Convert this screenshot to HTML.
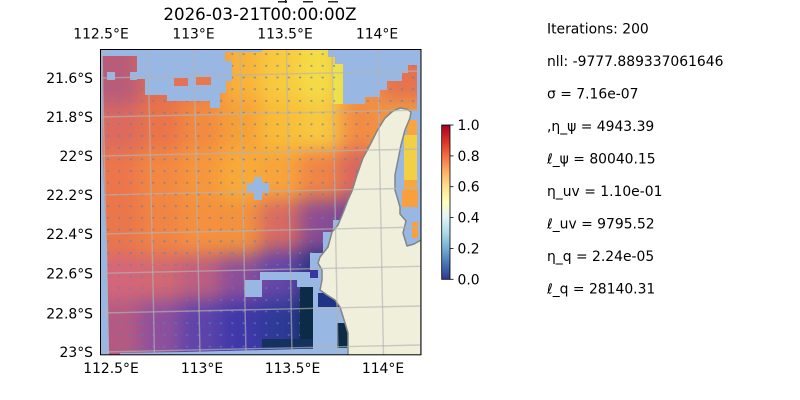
<!DOCTYPE html>
<html><head><meta charset="utf-8"><style>
html,body{margin:0;padding:0;background:#fff;}
svg{display:block;}
text{font-family:"DejaVu Sans","Liberation Sans",sans-serif;fill:#000;}
</style></head><body>
<svg width="800" height="400" viewBox="0 0 800 400" xmlns="http://www.w3.org/2000/svg">
<defs>
<clipPath id="mapclip"><rect x="100" y="49" width="321" height="306"/></clipPath>
<filter id="bl" filterUnits="userSpaceOnUse" x="0" y="0" width="800" height="400" color-interpolation-filters="sRGB"><feGaussianBlur stdDeviation="9"/></filter>
<pattern id="q" width="11.3" height="11.7" patternUnits="userSpaceOnUse" x="103" y="60"><rect x="4" y="5" width="2" height="1.6" fill="#5a80b8"/></pattern>
<linearGradient id="cb" x1="0" y1="1" x2="0" y2="0">
<stop offset="0" stop-color="#313695"/><stop offset="0.1" stop-color="#4575b4"/><stop offset="0.2" stop-color="#74add1"/><stop offset="0.3" stop-color="#abd9e9"/><stop offset="0.4" stop-color="#e0f3f8"/><stop offset="0.5" stop-color="#ffffbf"/><stop offset="0.6" stop-color="#fee090"/><stop offset="0.7" stop-color="#fdae61"/><stop offset="0.8" stop-color="#f46d43"/><stop offset="0.9" stop-color="#d73027"/><stop offset="1" stop-color="#a50026"/>
</linearGradient>
</defs>

<rect x="278" y="1" width="9" height="1.5" fill="#222"/><rect x="285" y="0" width="1.5" height="3" fill="#222"/>
<rect x="303" y="1" width="10" height="1.5" fill="#222"/>
<rect x="328" y="1" width="10" height="1.5" fill="#222"/>

<text x="260" y="20" font-size="16.67" text-anchor="middle">2026-03-21T00:00:00Z</text>

<g clip-path="url(#mapclip)">
<rect x="100" y="49" width="321" height="306" fill="#98b7e2"/>
<g filter="url(#bl)">
<rect x="60" y="20" width="80" height="85" fill="#ba5c78"/><rect x="140" y="20" width="40" height="80" fill="#e06c54"/><rect x="180" y="20" width="40" height="80" fill="#ea7a4a"/><rect x="220" y="20" width="40" height="80" fill="#f8b23a"/><rect x="260" y="20" width="40" height="80" fill="#f8ca3e"/><rect x="300" y="20" width="40" height="80" fill="#f4dc46"/><rect x="340" y="20" width="40" height="80" fill="#f39644"/><rect x="380" y="20" width="80" height="80" fill="#e6724e"/>
<rect x="60" y="105" width="80" height="45" fill="#dc6a5e"/><rect x="140" y="100" width="40" height="50" fill="#ea7448"/><rect x="180" y="100" width="40" height="50" fill="#f28a40"/><rect x="220" y="100" width="40" height="50" fill="#f6a038"/><rect x="260" y="100" width="40" height="50" fill="#f9bc38"/><rect x="300" y="100" width="40" height="50" fill="#f7c840"/><rect x="340" y="100" width="40" height="50" fill="#f28c44"/><rect x="380" y="100" width="80" height="50" fill="#ee9a46"/>
<rect x="60" y="150" width="80" height="50" fill="#ec764a"/><rect x="140" y="150" width="40" height="50" fill="#f28842"/><rect x="180" y="150" width="40" height="50" fill="#f5963c"/><rect x="220" y="150" width="40" height="50" fill="#f8aa38"/><rect x="260" y="150" width="40" height="50" fill="#f7a43a"/><rect x="300" y="150" width="40" height="50" fill="#f08446"/><rect x="340" y="150" width="40" height="50" fill="#d86660"/><rect x="380" y="150" width="80" height="50" fill="#f5b040"/>
<rect x="60" y="200" width="80" height="55" fill="#ea764a"/><rect x="140" y="200" width="40" height="55" fill="#f08444"/><rect x="180" y="200" width="40" height="55" fill="#f4903e"/><rect x="220" y="200" width="40" height="55" fill="#f2923e"/><rect x="260" y="200" width="40" height="50" fill="#d86a62"/><rect x="300" y="200" width="40" height="50" fill="#8a4c94"/><rect x="340" y="200" width="40" height="50" fill="#6a46a0"/><rect x="380" y="200" width="80" height="50" fill="#f5a040"/>
<rect x="60" y="255" width="80" height="45" fill="#d4667a"/><rect x="140" y="255" width="40" height="45" fill="#d26872"/><rect x="180" y="255" width="40" height="45" fill="#be5e80"/><rect x="220" y="255" width="40" height="45" fill="#8c4e9a"/><rect x="260" y="250" width="40" height="50" fill="#6446a8"/><rect x="300" y="250" width="160" height="50" fill="#2a3480"/>
<rect x="60" y="300" width="80" height="90" fill="#b45a82"/><rect x="140" y="300" width="40" height="90" fill="#8e509c"/><rect x="180" y="300" width="40" height="90" fill="#5e44aa"/><rect x="220" y="300" width="40" height="90" fill="#4038aa"/><rect x="260" y="300" width="40" height="90" fill="#2e3a98"/><rect x="300" y="300" width="160" height="90" fill="#0c2c4c"/>
</g>
<rect x="332" y="64" width="11" height="40" fill="#ece64c" opacity="0.85"/>
<rect x="100" y="49" width="321" height="306" fill="url(#q)" opacity="0.75"/>

<g fill="#98b7e2">
<polygon points="100,49 262,49 262,52 225,52 225,61 232,61 232,81 226,81 226,93 220,93 220,108 210,108 210,101 167,101 167,95 145,95 145,79 137,79 137,56 100,56"/>
<polygon points="100,49 102.5,49 102.5,150 105,213 107,245 109,355 100,355"/>
<rect x="107" y="72" width="8" height="8"/><rect x="130" y="72" width="7" height="8"/>
<polygon points="328,49 421,49 421,112 417,112 417,65 408,65 408,73 402,73 402,81 387,81 387,90 380,90 380,97 365,97 365,104 343,104 343,64 335,64 335,57 328,57"/>
<rect x="395" y="111" width="26" height="135"/>
<rect x="254" y="177" width="8" height="23"/><rect x="247" y="183" width="22" height="10"/>
<rect x="333" y="220" width="37" height="12"/>
<rect x="323" y="232" width="47" height="21"/>
<rect x="310" y="253" width="60" height="19"/>
<rect x="260" y="272" width="110" height="8"/>
<rect x="297" y="280" width="73" height="7"/>
<rect x="313" y="287" width="57" height="69"/>
<rect x="245" y="280" width="17" height="17"/>
<polygon points="120,353 185,352 300,349 348,348 348,356 120,356"/>
</g>
<rect x="174" y="78" width="14" height="8" fill="#e3725a"/>
<rect x="196" y="77" width="15" height="8" fill="#e8794e"/>
<rect x="310" y="270" width="8" height="8" fill="#3a36a0"/>
<rect x="300" y="287" width="13" height="60" fill="#0b2b47"/>
<rect x="262" y="339" width="51" height="9" fill="#15325e"/>
<rect x="318" y="293" width="22" height="14" fill="#1f3486"/>
<rect x="337" y="323" width="12" height="25" fill="#0b2b47"/>
<rect x="407" y="120" width="10" height="15" fill="#f6a640"/>
<rect x="404" y="135" width="13" height="45" fill="#f2d046"/>
<rect x="404" y="180" width="13" height="10" fill="#f5a840"/>
<rect x="402" y="190" width="16" height="17" fill="#f8a040"/>
<rect x="412" y="222" width="6" height="16" fill="#f8a040"/>

<polygon points="400,108 407,109 411,112 410,118 405,130 401,145 398,160 395,175 395,190 398,200 400,207 400,214 406,221 403,233 407,246 414,244 421,240 421,356 348,356 348,333 345,323 340,307 335,300 327,295 320,290 322,280 322,270 318,263 320,257 328,247 332,232 338,225 343,213 348,200 352,191 357,175 363,158 370,145 377,131 385,118 393,111" fill="#efefdb" stroke="#858585" stroke-width="1.5" stroke-linejoin="round"/>

<g stroke="#b4b4b4" stroke-opacity="0.65" stroke-width="1.4" fill="none">
<line x1="102" y1="49" x2="108.5" y2="355"/>
<line x1="148" y1="49" x2="154.5" y2="355"/>
<line x1="194" y1="49" x2="200" y2="355"/>
<line x1="240" y1="49" x2="246" y2="355"/>
<line x1="286.5" y1="49" x2="292" y2="355"/>
<line x1="332" y1="49" x2="338" y2="355"/>
<line x1="377.5" y1="49" x2="383.5" y2="355"/>
<line x1="100" y1="78" x2="421" y2="71"/>
<line x1="100" y1="117" x2="421" y2="110"/>
<line x1="100" y1="156" x2="421" y2="149"/>
<line x1="100" y1="195" x2="421" y2="188"/>
<line x1="100" y1="234" x2="421" y2="227"/>
<line x1="100" y1="273.3" x2="421" y2="266.3"/>
<line x1="100" y1="313" x2="421" y2="306"/>
<line x1="100" y1="352" x2="421" y2="345"/>
</g>
</g>
<rect x="100.5" y="49.5" width="320.5" height="305.3" fill="none" stroke="#000" stroke-width="1"/>

<g font-size="13.9">
<text x="101" y="38.5" text-anchor="middle">112.5°E</text>
<text x="193.5" y="38.5" text-anchor="middle">113°E</text>
<text x="285" y="38.5" text-anchor="middle">113.5°E</text>
<text x="377" y="38.5" text-anchor="middle">114°E</text>
<text x="111" y="373" text-anchor="middle">112.5°E</text>
<text x="202" y="373" text-anchor="middle">113°E</text>
<text x="292.5" y="373" text-anchor="middle">113.5°E</text>
<text x="383" y="373" text-anchor="middle">114°E</text>
<text x="93" y="82.8" text-anchor="end">21.6°S</text>
<text x="93" y="121.8" text-anchor="end">21.8°S</text>
<text x="93" y="161" text-anchor="end">22°S</text>
<text x="93" y="200" text-anchor="end">22.2°S</text>
<text x="93" y="239" text-anchor="end">22.4°S</text>
<text x="93" y="278.4" text-anchor="end">22.6°S</text>
<text x="93" y="318.4" text-anchor="end">22.8°S</text>
<text x="93" y="356.8" text-anchor="end">23°S</text>
</g>

<rect x="441.7" y="125" width="8.3" height="154.3" fill="url(#cb)" stroke="#000" stroke-width="0.8"/>
<g stroke="#000" stroke-width="0.8">
<line x1="450" y1="125" x2="453.5" y2="125"/>
<line x1="450" y1="155.9" x2="453.5" y2="155.9"/>
<line x1="450" y1="186.7" x2="453.5" y2="186.7"/>
<line x1="450" y1="217.6" x2="453.5" y2="217.6"/>
<line x1="450" y1="248.5" x2="453.5" y2="248.5"/>
<line x1="450" y1="279.3" x2="453.5" y2="279.3"/>
</g>
<g font-size="13.9">
<text x="457.5" y="130">1.0</text>
<text x="457.5" y="160.9">0.8</text>
<text x="457.5" y="191.7">0.6</text>
<text x="457.5" y="222.6">0.4</text>
<text x="457.5" y="253.5">0.2</text>
<text x="457.5" y="284.3">0.0</text>
</g>

<g font-size="13.9">
<text x="547" y="33.3">Iterations: 200</text>
<text x="547" y="65.8">nll: -9777.889337061646</text>
<text x="547" y="98.3">σ = 7.16e-07</text>
<text x="547" y="130.8">,η_ψ = 4943.39</text>
<text x="547" y="163.3">ℓ_ψ = 80040.15</text>
<text x="547" y="195.8">η_uv = 1.10e-01</text>
<text x="547" y="228.3">ℓ_uv = 9795.52</text>
<text x="547" y="260.8">η_q = 2.24e-05</text>
<text x="547" y="293.3">ℓ_q = 28140.31</text>
</g>
</svg>
</body></html>
